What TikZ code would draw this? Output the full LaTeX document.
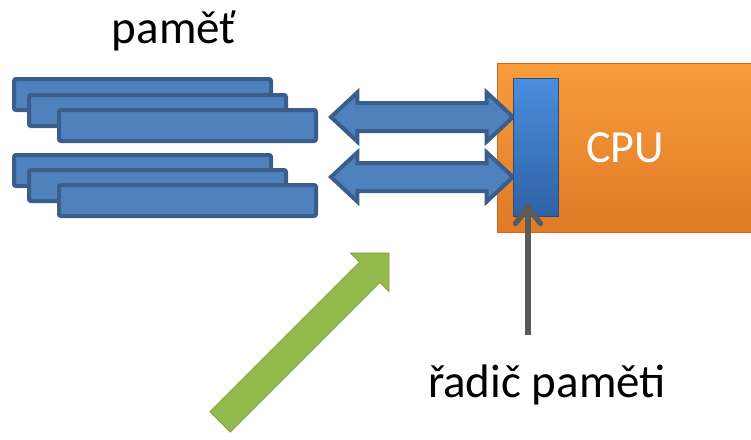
\documentclass[tikz,border=0pt]{standalone}
\usepackage{fontspec}
\setmainfont{Carlito}
\usetikzlibrary{shapes.arrows,arrows.meta,calc}
\definecolor{memfill}{HTML}{4F81BD}
\definecolor{memline}{HTML}{3A5E8C}
\definecolor{cputop}{HTML}{F99C3C}
\definecolor{cpubot}{HTML}{E07A26}
\definecolor{cpuline}{HTML}{C96A1E}
\definecolor{bartop}{HTML}{4A8EDC}
\definecolor{barbot}{HTML}{2F62A5}
\definecolor{barline}{HTML}{2A4C7C}
\definecolor{gmid}{HTML}{93BB4C}
\definecolor{gline}{HTML}{7E9F3C}
\definecolor{arrgray}{HTML}{5A5A5A}
\tikzset{
  module/.style={draw=memline, fill=memfill, line width=4pt, rounded corners=2pt,
    anchor=north west, inner sep=0pt, outer sep=0pt, minimum width=257pt, minimum height=31pt},
  bus/.style={double arrow, draw=memline, fill=memfill, line width=4pt,
    minimum height=182pt, double arrow head extend=10.5pt,
    double arrow tip angle=86, inner xsep=0pt, inner ysep=12pt, outer sep=0pt},
  label/.style={font=\fontsize{47}{52}\selectfont, anchor=base, inner sep=0pt},
}
\begin{document}
\begin{tikzpicture}[x=1pt,y=-1pt]
\useasboundingbox (0,0) rectangle (751,439);
% memory modules
\node[module] (m1a) at (14,79) {};
\node[module] (m1b) at (29,95) {};
\node[module] (m1c) at (59,110) {};
\node[module] (m2a) at (14,155) {};
\node[module] (m2b) at (29,170) {};
\node[module] (m2c) at (59,185) {};
% CPU
\node[draw=cpuline, line width=0.8pt, top color=cputop, bottom color=cpubot,
  anchor=north west, inner sep=0pt, outer sep=0pt, minimum width=256pt, minimum height=169pt] (cpu) at (497,63) {};
\node[label, text=white, font=\fontsize{46}{50}\selectfont] (cputext) at (625,162) {CPU};
% buses
\node[bus] (bus1) at (422,117) {};
\node[bus] (bus2) at (422,177) {};
% memory controller
\node[draw=barline, line width=0.8pt, top color=bartop, bottom color=barbot,
  anchor=north west, inner sep=0pt, outer sep=0pt, minimum width=45pt, minimum height=138pt] (bar) at (513,78) {};
% labels
\node[label] (mem) at (174,43) {paměť};
\node[label] (ctl) at (547,397) {řadič paměti};
\coordinate (gtail) at (528,335);
\coordinate (gtip) at ($(gtail |- bar.south)+(0,-13)$);
\draw[arrgray, line width=5.5pt, -{Straight Barb[length=16pt,width=25pt,line cap=round]}]
  (gtail) -- (gtip);
% green arrow
\node[single arrow, rotate=45, draw=gline, line width=0.8pt, fill=gmid,
  minimum height=239pt, single arrow head extend=13pt, single arrow tip angle=90,
  inner xsep=0pt, inner ysep=14pt, outer sep=0pt] (green) at (299.5,342.5) {};
\end{tikzpicture}
\end{document}
